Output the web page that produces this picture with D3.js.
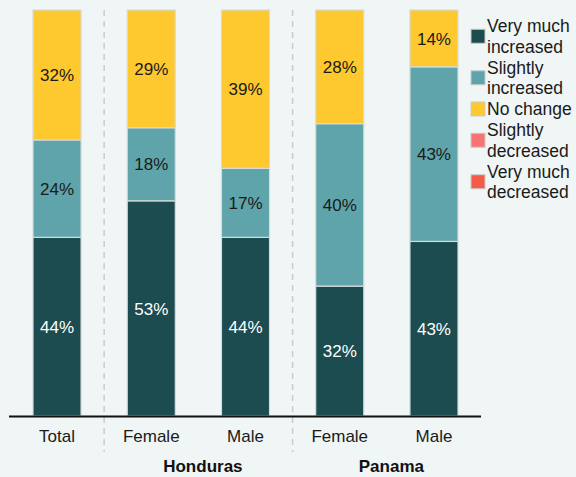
<!DOCTYPE html>
<html><head><meta charset="utf-8">
<script src="https://cdn.jsdelivr.net/npm/d3@7"></script>
<style>body{margin:0;background:#f0f5f5;}svg{display:block;font-family:Arial,"Liberation Sans",sans-serif;}</style>
</head><body>
<svg id="c" width="576" height="477"></svg>
<script>
const categories = ["Total","Female","Male","Female","Male"];
const groups = ["","Honduras","Honduras","Panama","Panama"];
const seriesNames = ["Very much increased","Slightly increased","No change","Slightly decreased","Very much decreased"];
const veryMuchIncreased = [44,53,44,32,43];
const slightlyIncreased = [24,18,17,40,43];
const noChange = [32,29,39,28,14];
const slightlyDecreased = [0,0,0,0,0];
const veryMuchDecreased = [0,0,0,0,0];
const colors = ["#1c4c4f","#5fa4aa","#fec82f","#f87473","#f55b47"];
const labelColors = ["#ffffff","#1a1a1a","#1a1a1a","#1a1a1a","#1a1a1a"];

const svg = d3.select("#c");
const W=576,H=477;
const FS = 17;
svg.append("rect").attr("width",W).attr("height",H).attr("fill","#f0f5f5");

const axisLeft=9, axisRight=481, topY=10, base=416;
const ids = categories.map((d,i)=>i);
const x = d3.scaleBand().domain(ids).range([14.15, 476.85]).paddingInner(0.49).paddingOuter(0.2);
const y = d3.scaleLinear().domain([0,100]).range([base,topY]);

const data = ids.map(i=>({i, v:[veryMuchIncreased[i],slightlyIncreased[i],noChange[i],slightlyDecreased[i],veryMuchDecreased[i]]}));
const keys=[0,1,2,3,4];
const stack = d3.stack().keys(keys).value((d,k)=>d.v[k]);
const series = stack(data);

// dashed separators
[0.5,2.5].forEach(p=>{
  const xp = (x(Math.floor(p))+x.bandwidth() + x(Math.ceil(p)))/2;
  svg.append("line").attr("x1",xp).attr("x2",xp).attr("y1",topY).attr("y2",452)
    .attr("stroke","#c8cccc").attr("stroke-width",1.5).attr("stroke-dasharray","6,5");
});

series.forEach((s,k)=>{
  const g = svg.append("g");
  s.forEach(d=>{
    const h = y(d[0])-y(d[1]);
    if(h<=0) return;
    g.append("rect").attr("x",x(d.data.i)).attr("y",y(d[1])).attr("width",x.bandwidth()).attr("height",h)
      .attr("fill",colors[k]).attr("stroke","#d6dcdc").attr("stroke-width",1.2);
  });
});
series.forEach((s,k)=>{
  s.forEach(d=>{
    if(d.data.v[k]<=0) return;
    svg.append("text").attr("x",x(d.data.i)+x.bandwidth()/2).attr("y",(y(d[0])+y(d[1]))/2)
      .attr("dy","0.36em").attr("text-anchor","middle").attr("font-size",FS)
      .attr("fill",labelColors[k]).text(d.data.v[k]+"%");
  });
});

// baseline
svg.append("line").attr("x1",axisLeft).attr("x2",axisRight).attr("y1",base+0.5).attr("y2",base+0.5)
  .attr("stroke","#111").attr("stroke-width",2);

// x axis labels
const xa = d3.axisBottom(x).tickFormat(i=>categories[i]).tickSize(0).tickPadding(14);
const ax = svg.append("g").attr("transform",`translate(0,${base})`).call(xa);
ax.select(".domain").remove();
ax.selectAll("text").attr("font-size",FS).attr("fill","#1a1a1a").attr("font-family","Arial, 'Liberation Sans', sans-serif");

// group labels
const grpNames = ["Honduras","Panama"];
grpNames.forEach(gn=>{
  const idx = ids.filter(i=>groups[i]===gn);
  const cx = d3.mean(idx, i=>x(i)+x.bandwidth()/2) + 4.5;
  svg.append("text").attr("x",cx).attr("y",472).attr("text-anchor","middle")
    .attr("font-size",FS).attr("font-weight","bold").attr("fill","#111").text(gn);
});

// legend
const legendLines = [["Very much","increased"],["Slightly","increased"],["No change"],["Slightly","decreased"],["Very much","decreased"]];
let ly = 32;
const lineH = 20.5;
legendLines.forEach((lines,k)=>{
  const n=lines.length;
  const cy = ly - 6 + (n-1)*lineH/2;
  svg.append("rect").attr("x",471).attr("y",cy-7).attr("width",14).attr("height",14)
    .attr("fill",colors[k]).attr("stroke","#c8cccc").attr("stroke-width",1);
  lines.forEach((t,j)=>{
    svg.append("text").attr("x",487).attr("y",ly+j*lineH).attr("font-size",17.5).attr("fill","#1a1a1a").text(t);
  });
  ly += n*lineH + 0.5;
});
</script>
</body></html>
